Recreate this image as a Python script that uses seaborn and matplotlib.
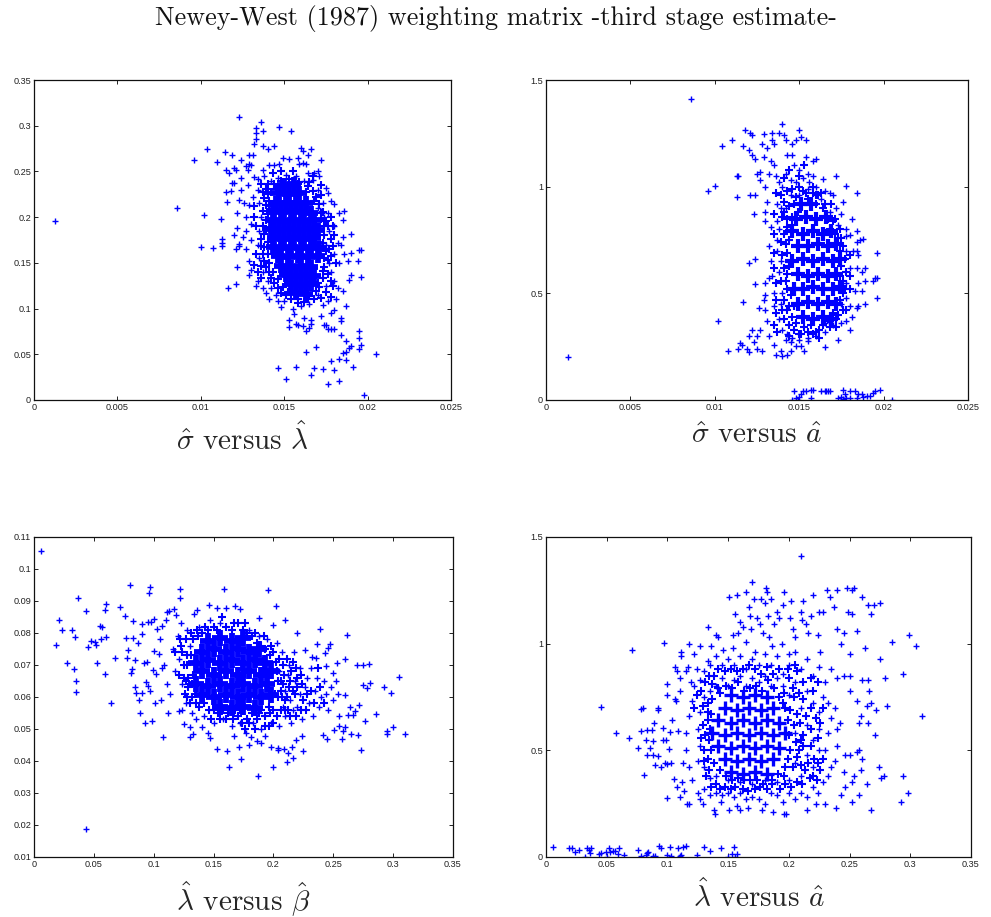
#!/usr/bin/env python3
"""Four scatter panels of third stage estimates (values read off the picture)"""

import matplotlib
matplotlib.use('Agg')
import matplotlib.pyplot as plt
import seaborn as sns

# sigma vs lambda
p1_outer = [(.00128,.196),(.00856,.210),(.0096,.262),(.0100,.167),(.0102,.202),(.0104,.275),(.01076,.166),(.0110,.260),(.01124,.198),(.0113,.176),(.0113,.172),(.0113,.168),(.01146,.271),(.0115,.252),(.0115,.228),(.0116,.217),(.01164,.122),(.0117,.248),(.0118,.229),(.0119,.268),(.0119,.237),(.012,.180),(.012,.237),(.012,.254),(.0121,.252),(.0121,.127),(.0122,.188),(.0121,.165),(.0122,.145),(.0123,.310),(.0123,.219),(.0123,.171),(.0123,.168),(.0124,.263),(.0124,.243),(.0124,.230),
(.0133,.285),(.0132,.280),(.0133,.292),(.0133,.298),(.0136,.304),(.0137,.294),(.0137,.278),(.0140,.275),(.0144,.278),(.0147,.299),(.0154,.294),(.0129,.268),(.0131,.268),(.0129,.258),(.0127,.256),(.0128,.252),(.0130,.257),(.0132,.244),(.0134,.242),(.0137,.252),(.0141,.257),(.0144,.257),(.0147,.258),(.0149,.265),(.0153,.264),(.0158,.265),(.0159,.258),(.0161,.259),(.0163,.258),(.0160,.276),(.0161,.272),(.0164,.268),(.0166,.274),(.0172,.263),(.0164,.248),(.0168,.248),(.0170,.250),(.0171,.245),(.0167,.241),(.0175,.232),(.0176,.226),(.0178,.218),(.0180,.214),(.0186,.207),(.0183,.204),(.0185,.197),(.0190,.182),(.0185,.178),(.0184,.170),(.0186,.160),(.0190,.161),(.0188,.152),(.0194,.152),(.0195,.164),(.0196,.164),(.0196,.134),(.0190,.137),(.0189,.131),(.0185,.119),(.0187,.103),(.0184,.090),(.0184,.086),(.0184,.071),(.0187,.064),(.0195,.076),(.0195,.068),(.0196,.060),(.0195,.056),(.0190,.059),(.0189,.057),(.0187,.052),(.0185,.051),(.0187,.044),(.0183,.045),(.0178,.043),(.0191,.036),(.0205,.050),(.0198,.006),(.0183,.021),(.0176,.018),(.0180,.033),(.0173,.034),(.0168,.035),(.0166,.027),(.0157,.036),(.0146,.035),(.0151,.023),(.0169,.058),(.0163,.052),(.0176,.078),(.0178,.078),(.0180,.078),(.0174,.082),(.0175,.082),(.0163,.076),(.0165,.079),(.0166,.083),(.0158,.082),(.0157,.083),(.0153,.080),(.0161,.081),(.0153,.087),(.0156,.094),(.0162,.090),(.0166,.087),(.0173,.104),(.0176,.108),(.0178,.095),(.0180,.098),(.0172,.092),(.0181,.110),(.0182,.123),(.0180,.130),(.0178,.140),(.0183,.150),(.0180,.160),(.0182,.172),(.0180,.190),(.0176,.205),(.0173,.215),(.0170,.230),(.0148,.102),(.0146,.108),(.0141,.110),(.0139,.117),(.0137,.123),(.0134,.130),(.0133,.125),(.0129,.137),(.0130,.142),(.0129,.152),(.0127,.165),(.0130,.175),(.0125,.178),(.0127,.185),(.0130,.192),(.0127,.200),(.0129,.213),(.0126,.215),(.0122,.205),(.0128,.235),(.0131,.222),(.0134,.230),(.0135,.215),(.0136,.200),(.0135,.185),(.0134,.170),(.0135,.155),(.0137,.140),(.0140,.130),(.0142,.122),(.0145,.115),(.0150,.108),(.0155,.100),(.0160,.103),(.0165,.105),(.0170,.115),(.0175,.125),(.0177,.150),(.0175,.170),(.0177,.185),(.0174,.200),(.0170,.210),(.0138,.245),(.0142,.240),(.0146,.243),(.0151,.246),(.0157,.245),(.0162,.240)]
p1_mid = [(.0139,.231),(.0142,.228),(.0144,.236),(.0148,.240),(.0153,.242),(.0159,.238),(.0164,.234),(.0167,.229),(.0169,.222),(.0172,.224),(.0171,.214),(.0173,.206),(.0175,.196),(.0172,.198),(.0176,.190),(.0174,.181),(.0178,.176),(.0175,.163),(.0178,.158),(.0176,.153),(.0174,.146),(.0176,.138),(.0173,.133),(.0175,.118),(.0171,.124),(.0169,.119),(.0168,.111),(.0164,.110),(.0162,.107),(.0158,.106),(.0154,.110),(.0151,.115),(.0148,.117),(.0146,.122),(.0144,.128),(.0142,.133),(.0141,.140),(.0139,.146),(.0138,.152),(.0137,.160),(.0138,.167),(.0136,.176),(.0138,.182),(.0137,.190),(.0139,.197),(.0137,.207),(.0139,.213),(.0138,.221),(.0141,.218),(.0133,.190),(.0132,.200),(.0132,.212),(.0133,.160),(.0132,.148),(.0136,.133),(.0179,.168),(.0181,.150),(.0179,.125),(.0178,.113),(.0172,.112),(.0180,.180),(.0178,.200),(.0172,.235),(.0167,.245),(.0165,.238),(.0155,.250),(.0148,.250),(.0143,.248),(.0140,.236),(.0136,.236),
(.0140,.225),(.0141,.212),(.0140,.203),(.0139,.186),(.0140,.173),(.0140,.160),(.0141,.150),(.0143,.140),(.0146,.132),(.0149,.124),(.0152,.118),(.0158,.110),(.0165,.114),(.0170,.128),(.0173,.141),(.0174,.155),(.0173,.172),(.0174,.190),(.0172,.205),(.0168,.218),(.0163,.228),(.0158,.236),(.0145,.231),(.0137,.228),(.0136,.168),(.0136,.147),(.0134,.140),(.0178,.130),(.0177,.165),(.0179,.190)]
p1_core = [(.0150,.235),(.0156,.236),(.0147,.226),(.0153,.225),(.0159,.226),(.0145,.216),(.0151,.216),(.0157,.215),(.0163,.216),(.0143,.207),(.0148,.206),(.0154,.207),(.0160,.206),(.0166,.205),(.0144,.197),(.0150,.196),(.0156,.197),(.0162,.196),(.0168,.197),(.0142,.187),(.0147,.186),(.0153,.187),(.0159,.186),(.0165,.187),(.0170,.186),(.0144,.177),(.0150,.176),(.0156,.177),(.0162,.176),(.0168,.177),(.0143,.167),(.0148,.166),(.0154,.167),(.0160,.166),(.0166,.167),(.0171,.166),(.0146,.157),(.0152,.156),(.0158,.157),(.0164,.156),(.0170,.157),(.0148,.147),(.0154,.146),(.0160,.147),(.0166,.146),(.0151,.137),(.0157,.136),(.0163,.137),(.0168,.136),(.0154,.127),(.0160,.126),(.0166,.127),(.0157,.117),(.0163,.116)]

# sigma vs a
p2_outer = [(.0013,.20),(.0086,1.413),(.0096,.98),(.0100,1.005),(.0102,.37),(.0104,1.19),(.0108,.23),(.0110,1.22),(.0113,.95),(.0113,1.05),(.0114,1.05),(.0114,.24),(.0115,.265),(.0116,.26),(.0117,.46),(.0117,1.19),(.0118,1.265),(.0119,.24),(.0120,.225),(.0120,1.17),(.0120,.30),(.0120,.64),(.0121,1.25),(.0121,.96),(.0122,1.24),(.0122,1.15),(.0122,.33),(.0123,.27),(.0123,.87),(.0124,.96),(.0124,1.13),(.0124,.66),(.0124,.545),(.0125,1.06),(.0125,.30),(.0125,.24),(.0126,.43),(.0127,1.07),(.0127,.33),(.0127,1.03),(.0128,1.20),(.0128,.23),(.0129,1.14),(.0129,1.245),(.0129,.47),(.0130,1.0),(.0130,.88),(.0130,.84),(.0130,.49),(.0130,.42),(.0130,.55),(.0131,1.18),(.0131,.37),(.0131,.93),(.0132,1.06),(.0132,.72),(.0132,.57),(.0132,.30),(.0133,1.12),(.0133,.81),(.0133,.65),(.0134,1.25),(.0134,1.22),(.0134,.58),(.0135,1.2),(.0135,1.1),(.0135,.50),(.0135,.44),(.0135,.26),(.0136,.21),(.0136,1.05),(.0137,.92),(.0137,.75),(.0138,1.25),
(.0140,1.295),(.0141,1.24),(.0142,1.22),(.0143,1.15),(.0146,1.15),(.0146,1.2),(.0148,1.22),(.0150,1.265),(.0151,1.235),(.0154,1.22),(.0154,1.14),(.0158,1.12),(.0160,1.13),(.0147,1.1),(.0150,1.08),(.0155,1.06),(.0158,1.05),(.0164,1.035),(.0172,1.05),(.0178,1.005),(.0184,.97),(.0165,.98),(.0168,.97),(.0170,.96),(.0176,.93),(.0172,.90),(.0175,.87),(.0181,.85),(.0178,.80),(.0184,.79),(.0180,.775),(.0178,.77),(.0188,.755),(.0184,.74),(.0186,.75),(.0182,.70),(.0184,.70),(.0185,.68),(.0196,.69),(.0189,.62),(.0187,.60),(.0184,.62),(.0195,.57),(.0196,.57),(.0194,.56),(.0189,.56),(.0185,.55),(.0187,.51),(.0183,.51),(.0196,.48),(.0189,.45),(.0185,.44),(.0184,.43),(.0180,.44),(.0178,.48),(.0181,.39),(.0178,.37),(.0180,.33),(.0175,.36),(.0173,.28),(.0165,.25),(.0160,.30),(.0165,.32),(.0170,.35),(.0155,.275),(.0153,.23),(.0151,.255),(.0148,.255),(.0145,.23),(.0143,.21),(.0140,.205),(.0139,.23),(.0145,.27),(.0142,.28),
(.0146,0),(.0147,.04),(.0148,.01),(.0149,.0),(.0150,.015),(.0151,.03),(.0152,.04),(.0154,.04),(.0157,.045),(.0158,.045),(.0157,.01),(.0163,.04),(.0165,.04),(.0166,.04),(.0167,.04),(.0168,.04),(.0173,.01),(.0175,.015),(.0176,.045),(.0177,.03),(.0176,.005),(.0178,.01),(.0180,.01),(.0180,.04),(.0183,.04),(.0184,.01),(.0185,.03),(.0187,.03),(.0188,.015),(.0190,.02),(.0192,.02),(.0194,.035),(.0195,.04),(.0198,.045),(.0205,.0),
(.0138,1.02),(.0140,1.0),(.0142,1.06),(.0145,1.03),(.0148,1.02),(.0152,1.04),(.0156,1.02),(.0160,1.0),(.0139,.9),(.0137,.84),(.0138,.80),(.0137,.70),(.0139,.65),(.0138,.60),(.0140,.50),(.0139,.45),(.0138,.38),(.0140,.33),(.0143,.31),(.0146,.29),(.0150,.28),(.0155,.29),(.0165,.36),(.0175,.45),(.0178,.55),(.0180,.62),(.0178,.70),(.0173,.82),(.0168,.88),(.0163,.94),(.0155,.99),(.0150,.96),(.0145,.96),(.0142,.9)]
p2_mid = [(.0143,.98),(.0146,.99),(.0152,.98),(.0158,.97),(.0161,.96),(.0141,.93),(.0143,.85),(.0141,.78),(.0142,.73),(.0140,.68),(.0141,.62),(.0142,.56),(.0143,.52),(.0141,.47),(.0143,.42),(.0141,.38),(.0144,.35),(.0147,.33),(.0151,.31),(.0155,.32),(.0158,.31),(.0162,.33),(.0167,.38),(.0170,.41),(.0173,.40),(.0172,.45),(.0176,.50),(.0176,.56),(.0178,.60),(.0175,.63),(.0177,.66),(.0176,.72),(.0175,.76),(.0171,.78),(.0171,.85),(.0167,.85),(.0169,.92),(.0165,.92),(.0160,.96),(.0148,.95),(.0155,.94),(.0144,.91),(.0149,.88),(.0141,.88),(.0146,.82),(.0174,.80),(.0180,.68),(.0180,.58),(.0180,.52),(.0178,.42),(.0172,.38),(.0168,.34),(.0162,.29),(.0150,.31),(.0144,.30),(.0137,.32),(.0135,.35),(.0136,.41),(.0136,.47),(.0136,.55),(.0135,.62),(.0135,.69),(.0135,.78),(.0135,.87),(.0136,.97),(.0139,.96),(.0141,1.04),(.0144,1.08),(.0150,1.05),(.0153,1.1),
(.0144,.75),(.0143,.69),(.0144,.63),(.0143,.59),(.0145,.49),(.0144,.44),(.0146,.39),(.0148,.36),(.0153,.34),(.0157,.35),(.0160,.32),(.0164,.35),(.0168,.37),(.0174,.47),(.0174,.58),(.0177,.52),(.0174,.70),(.0173,.76),(.0170,.84),(.0164,.90),(.0160,.92),(.0147,.92),(.0154,.97),(.0158,1.0),(.0150,1.0),(.0146,.86),(.0143,.81),(.0147,.44),(.0140,.42),(.0139,.56),(.0139,.74),(.0140,.86),(.0163,.97),(.0168,.80),(.0176,.42),(.0172,.34)]
p2_core = [(.0151,.92),(.0157,.92),(.0148,.85),(.0154,.86),(.0160,.85),(.0166,.86),(.0146,.79),(.0152,.78),(.0158,.79),(.0164,.78),(.0169,.79),(.0149,.72),(.0155,.72),(.0161,.73),(.0167,.72),(.0172,.73),(.0146,.65),(.0152,.66),(.0158,.65),(.0164,.66),(.0170,.65),(.0174,.66),(.0149,.59),(.0155,.58),(.0161,.59),(.0167,.58),(.0172,.59),(.0147,.52),(.0152,.52),(.0158,.53),(.0164,.52),(.0170,.52),(.0174,.53),(.0149,.45),(.0155,.46),(.0161,.45),(.0167,.46),(.0172,.45),(.0152,.39),(.0158,.38),(.0164,.39),(.0169,.38)]

# lambda vs beta
p3_outer = [(.006,.1055),(.0185,.0763),(.021,.084),(.0235,.081),(.0275,.0706),(.0315,.081),(.0335,.0688),(.0345,.0787),(.035,.0617),(.0355,.065),(.0365,.0908),(.0435,.0188),(.0435,.0868),(.045,.0755),(.0475,.0775),(.051,.0772),(.0525,.0705),(.0515,.0762),(.055,.0822),(.056,.0782),(.057,.082),(.059,.0873),(.0595,.0672),(.06,.089),(.0605,.0788),(.0645,.058),(.068,.0722),(.0715,.088),(.076,.0853),(.0765,.0785),(.078,.0722),(.0785,.0748),(.08,.095),(.081,.0675),(.082,.0688),(.083,.0838),(.083,.0785),(.0845,.0632),(.0845,.0715),(.085,.0613),(.087,.077),(.088,.059),(.0885,.055),(.09,.0827),(.09,.0613),(.09,.0798),(.092,.0705),(.0925,.052),(.0935,.0648),(.094,.0708),(.095,.0835),(.0955,.0635),(.096,.0925),(.0965,.0943),(.097,.062),(.098,.0835),(.0985,.0525),(.0995,.0685),(.1,.0845),(.1,.0745),(.1015,.0672),(.101,.058),(.103,.0812),(.1045,.0735),(.105,.0782),(.106,.0592),(.107,.0822),(.108,.0475),(.109,.07),(.11,.0842),(.111,.0865),(.112,.055),(.113,.087),(.117,.0875),(.119,.0855),(.122,.091),(.122,.0938),(.121,.0555),(.124,.056),(.125,.0515),(.13,.0475),(.13,.0505),(.133,.0483),(.134,.0858),(.136,.0872),(.14,.0505),(.145,.0488),(.146,.0888),(.147,.0472),(.1525,.0878),(.153,.0437),(.1585,.0938),(.16,.0878),(.161,.0432),(.163,.0382),(.167,.0478),(.168,.0885),(.1715,.0445),(.172,.0875),(.173,.0405),(.177,.0488),(.1795,.045),(.181,.0475),(.186,.0462),(.1875,.0352),(.188,.0848),(.19,.0455),(.193,.0478),(.1955,.0933),(.198,.0445),(.2,.0825),(.2,.038),(.2025,.0883),(.2035,.0435),(.204,.044),(.2085,.0438),(.2095,.0842),(.2115,.0398),(.212,.0425),(.2155,.0445),(.2165,.041),(.2185,.0465),(.22,.08),(.225,.0432),(.224,.0478),(.226,.0748),(.2325,.0725),(.2355,.0722),(.2365,.0767),(.239,.0813),(.2415,.0482),(.243,.0738),(.245,.047),(.2455,.0752),(.247,.0765),(.2435,.0698),(.2495,.0675),(.2505,.0497),(.2535,.0705),(.2545,.0508),(.2575,.047),(.258,.0495),(.2595,.0605),(.2595,.072),(.2615,.0795),(.2645,.0485),(.2695,.07),(.2705,.0482),(.2735,.0435),(.2745,.0638),(.275,.07),(.2765,.0525),(.278,.0628),(.2795,.0702),(.281,.0645),(.2855,.0548),(.292,.0632),(.2945,.0485),(.2945,.0495),(.2985,.0612),(.2995,.0505),(.3045,.0663),(.31,.0483),(.264,.057),(.268,.0555),(.2715,.0575),(.2665,.0545),(.262,.0545),(.255,.054),(.26,.0505),
(.107,.069),(.111,.064),(.114,.061),(.116,.075),(.118,.068),(.12,.079),(.121,.072),(.123,.083),(.124,.064),(.127,.058),(.128,.081),(.13,.076),(.132,.055),(.135,.053),(.138,.082),(.142,.054),(.147,.084),(.15,.052),(.155,.083),(.158,.053),(.165,.051),(.172,.052),(.18,.081),(.183,.052),(.188,.079),(.19,.05),(.195,.078),(.198,.052),(.203,.077),(.205,.051),(.207,.074),(.21,.054),(.213,.07),(.215,.052),(.217,.074),(.22,.057),(.222,.069),(.224,.053),(.226,.063),(.228,.066),(.23,.058),(.231,.069),(.233,.054),(.235,.062),(.236,.066),(.238,.057),(.24,.06),(.242,.065),(.244,.061),(.246,.056),(.248,.063),(.25,.059),(.252,.065),(.254,.061),(.222,.061),(.218,.065),(.214,.059),(.21,.062),(.208,.057),(.216,.056),(.205,.068),(.212,.067)]
p3_mid = [(.118,.074),(.121,.067),(.123,.076),(.125,.07),(.126,.061),(.128,.073),(.129,.066),(.13,.058),(.131,.08),(.127,.078),(.133,.078),(.136,.081),(.14,.08),(.143,.082),(.15,.082),(.153,.081),(.16,.082),(.165,.081),(.17,.083),(.175,.081),(.178,.08),(.182,.079),(.186,.077),(.19,.076),(.193,.075),(.197,.073),(.2,.074),(.202,.071),(.205,.072),(.208,.07),(.203,.068),(.206,.065),(.208,.064),(.204,.06),(.21,.059),(.207,.06),(.2,.056),(.203,.054),(.197,.055),(.193,.054),(.19,.056),(.186,.053),(.182,.055),(.178,.053),(.174,.052),(.17,.054),(.166,.053),(.162,.055),(.158,.056),(.154,.055),(.15,.056),(.146,.056),(.142,.058),(.138,.057),(.135,.058),(.132,.06),(.129,.063),(.127,.065),(.215,.068),(.22,.066),(.225,.059),(.218,.061),(.213,.063),(.227,.056),(.231,.062),(.234,.058),(.212,.056),(.196,.051),(.185,.05),(.176,.05),
(.211,.072),(.216,.071),(.209,.067),(.214,.065),(.219,.069),(.223,.067),(.206,.062),(.211,.06),(.216,.062),(.22,.063),(.224,.064),(.228,.061),(.206,.056),(.21,.056),(.214,.054),(.219,.054),(.223,.056),(.2,.052),(.193,.051),(.204,.065),(.201,.061),(.196,.057),(.128,.07),(.125,.066),(.124,.074),(.122,.078),(.128,.06),(.131,.073),(.133,.067),(.132,.064),(.135,.061),(.137,.079),(.145,.081),(.148,.053),(.155,.053),(.16,.053),(.168,.056),(.172,.056),(.18,.052),(.188,.055),(.192,.079),(.198,.076),(.185,.08),(.176,.083),(.167,.083),(.157,.085),(.239,.063),(.242,.058),(.237,.069)]
p3_core = [(.145,.0775),(.155,.0785),(.165,.0775),(.175,.0785),(.140,.074),(.150,.075),(.160,.074),(.170,.075),(.180,.074),(.188,.075),(.135,.0705),(.145,.0715),(.155,.0705),(.165,.0715),(.175,.0705),(.185,.0715),(.193,.0705),(.140,.068),(.150,.067),(.160,.068),(.170,.067),(.180,.068),(.190,.067),(.198,.068),(.135,.064),(.145,.0635),(.155,.064),(.165,.0635),(.175,.064),(.185,.0635),(.195,.064),(.140,.0605),(.150,.060),(.160,.0605),(.170,.060),(.180,.0605),(.190,.060),(.198,.0605),(.155,.057),(.165,.0565),(.175,.057),(.185,.0565)]

# lambda vs a
p4_outer = [(.006,.045),(.019,.04),(.021,.04),(.024,.025),(.027,.035),(.032,0),(.034,.04),(.035,.035),(.036,.02),(.037,.04),(.044,.015),(.045,.02),(.049,.025),(.05,0),(.052,.04),(.053,.025),(.055,.03),(.057,.03),(.059,.015),(.06,.04),(.064,.01),(.076,.035),(.078,.005),(.082,.01),(.083,.02),(.084,.025),(.088,.005),(.09,.005),(.093,.05),(.095,.04),(.1,.01),(.102,.045),(.103,.005),(.109,.04),(.11,.005),(.111,.01),(.113,.045),(.115,.05),(.124,.01),(.13,.045),(.135,.03),(.144,.04),(.15,0),(.153,.015),(.155,.045),(.157,.015),(.156,0),
(.045,.705),(.058,.58),(.068,.56),(.071,.97),(.076,.51),(.078,.59),(.078,.695),(.08,.7),(.081,.385),(.082,.55),(.083,.48),(.083,.595),(.086,.51),(.087,.595),(.088,.545),(.088,.48),(.089,.63),(.09,.43),(.092,.475),(.092,.7),(.092,.69),(.095,.42),(.096,.55),(.096,.605),(.097,1.005),(.098,.44),(.099,.55),(.1,.275),(.1,.435),(.1,.76),(.1,.81),(.101,.505),(.102,.585),(.103,.44),(.104,.64),(.105,.365),(.106,.89),(.106,.74),(.107,.73),(.108,.33),(.108,.87),(.109,.59),(.11,.28),(.11,.84),(.11,.78),(.111,.96),(.111,.94),(.112,.35),(.113,.44),(.114,.31),(.115,.87),(.116,.25),(.117,.89),(.118,.25),(.118,1.0),(.119,.82),(.122,.95),(.124,.88),(.127,.99),(.127,.27),(.129,.25),(.133,.92),(.133,1.08),(.136,.99),(.138,.22),(.139,.2),(.14,1.04),(.142,1.03),(.144,.26),(.146,.97),(.151,.22),(.151,1.22),(.154,1.04),(.154,.98),(.156,1.14),(.157,1.23),(.157,.24),(.158,1.05),(.16,1.1),(.16,.22),(.162,1.08),(.165,1.01),(.165,1.24),(.166,.23),(.167,1.17),(.168,1.13),(.169,1.07),(.17,1.29),(.171,1.21),(.172,.96),(.174,1.12),(.176,1.09),(.177,1.21),(.178,.22),(.179,1.05),(.18,1.19),(.181,1.26),(.182,1.24),(.183,1.13),(.184,1.03),(.185,1.21),(.186,.99),(.187,.21),(.188,1.09),(.19,1.15),(.192,1.12),(.194,1.0),(.195,1.18),(.196,1.24),(.196,.2),(.198,.2),(.2,.95),(.201,1.12),(.202,1.2),(.203,1.07),(.205,1.03),(.21,1.41),(.21,1.15),(.211,1.11),(.212,1.2),(.214,1.09),(.215,.22),(.216,1.05),(.218,1.13),(.22,1.23),(.222,.25),(.224,1.04),(.225,1.15),(.226,.96),(.228,1.15),(.23,.25),(.231,1.25),(.234,1.22),(.237,1.17),(.239,.23),(.24,1.25),(.24,1.07),(.243,1.0),(.245,1.05),(.248,1.26),(.249,1.15),(.25,.95),(.252,.26),(.252,1.25),(.252,1.14),(.254,1.26),(.256,1.06),(.258,.29),(.26,1.22),(.263,.98),(.264,.34),(.265,1.18),(.268,1.14),(.268,.22),(.27,1.18),(.271,.57),(.274,.42),(.275,1.19),(.275,.93),(.276,.37),(.278,.38),(.279,.84),(.281,.71),(.285,1.01),(.292,.26),(.294,.86),(.294,.38),(.298,.3),(.299,1.04),(.305,.99),(.31,.66),
(.245,.85),(.25,.85),(.25,.78),(.256,.73),(.258,.63),(.259,.66),(.26,.83),(.259,.41),(.26,.46),(.256,.49),(.258,.5),(.254,.38),(.252,.35),(.246,.33),(.245,.4),(.243,.29),(.246,.48),(.25,.48),(.264,.71),(.265,.83),(.266,.78),(.265,.63),(.268,.72),(.272,.69),(.242,.63),(.24,.6),(.238,.7),(.235,.65),(.232,.58),(.23,.5),(.24,.52),(.238,.45),(.235,.42),(.232,.38),(.228,.35),(.224,.3),(.22,.33),(.215,.28),(.21,.3),(.205,.27),(.2,.3),(.195,.26),(.19,.29),(.185,.3),(.18,.25),(.175,.27),(.17,.28),(.165,.27),(.16,.3),(.155,.28),(.15,.3),(.145,.29),(.14,.3),(.135,.29),(.13,.32),(.125,.3),(.12,.36),(.118,.42),(.115,.5),(.115,.58),(.118,.66),(.12,.73),(.122,.8),(.127,.83),(.13,.87),(.135,.9),(.14,.94),(.145,.9),(.15,.93),(.155,.9),(.16,.94),(.165,.88),(.17,.93),(.175,.9),(.18,.95),(.185,.9),(.19,.94),(.195,.86),(.2,.9),(.205,.96),(.21,.88),(.215,.93),(.22,.85),(.225,.89),(.23,.82),(.235,.88),(.24,.84),(.228,.75),(.232,.72),(.225,.68),(.22,.72),(.215,.78),(.21,.7),(.225,.6),(.22,.55),(.215,.62),(.225,.5),(.22,.42),(.215,.48),(.21,.38),(.205,.44),(.2,.36),(.205,.58),(.205,.82),(.2,.76),(.195,.8),(.19,.84),(.185,.8),(.18,.85),(.175,.82),(.17,.84),(.165,.8),(.16,.85),(.155,.83),(.15,.8),(.145,.84),(.14,.8),(.135,.78),(.13,.75),(.127,.68),(.125,.6),(.127,.52),(.125,.45),(.13,.42),(.135,.37),(.14,.38),(.15,.36),(.16,.35),(.17,.34),(.18,.36),(.19,.35)]
p4_mid = [(.122,.7),(.124,.76),(.128,.78),(.131,.82),(.133,.72),(.133,.64),(.131,.57),(.13,.5),(.133,.46),(.132,.38),(.136,.33),(.14,.34),(.143,.32),(.147,.33),(.152,.32),(.156,.33),(.162,.32),(.166,.31),(.172,.32),(.176,.33),(.182,.32),(.186,.34),(.193,.32),(.197,.34),(.202,.33),(.207,.35),(.211,.34),(.213,.41),(.217,.37),(.22,.38),(.223,.36),(.226,.41),(.228,.46),(.224,.44),(.212,.52),(.208,.5),(.206,.54),(.212,.57),(.209,.63),(.218,.6),(.222,.65),(.207,.67),(.212,.74),(.218,.7),(.208,.77),(.212,.82),(.218,.84),(.207,.87),(.2,.84),(.196,.77),(.192,.88),(.187,.86),(.182,.89),(.177,.86),(.172,.88),(.167,.9),(.162,.88),(.157,.87),(.152,.88),(.147,.87),(.142,.88),(.138,.85),(.134,.85),(.129,.71),(.137,.81),(.143,.77),(.201,.69),(.204,.62),(.201,.5),(.203,.42),(.197,.42),(.195,.72),
(.137,.74),(.142,.79),(.148,.8),(.153,.79),(.158,.82),(.163,.78),(.168,.79),(.173,.8),(.178,.78),(.183,.83),(.188,.79),(.192,.75),(.197,.7),(.199,.64),(.2,.57),(.199,.46),(.196,.38),(.191,.39),(.186,.36),(.179,.34),(.174,.36),(.168,.36),(.163,.36),(.158,.37),(.153,.36),(.148,.38),(.143,.41),(.138,.44),(.136,.5),(.134,.55),(.135,.6),(.136,.67),(.133,.68),(.129,.62),(.128,.56),(.13,.45),(.134,.41),(.21,.43),(.207,.47),(.21,.55),(.214,.66),(.216,.44),(.218,.52),(.221,.46),(.224,.56),(.226,.63),(.228,.7),(.22,.78),(.224,.82),(.204,.75),(.203,.79),(.199,.88),(.205,.9)]
p4_core = [(.152,.76),(.162,.75),(.172,.76),(.182,.75),(.147,.70),(.157,.69),(.167,.70),(.177,.69),(.187,.70),(.142,.64),(.152,.63),(.162,.64),(.172,.63),(.182,.64),(.192,.63),(.137,.58),(.147,.57),(.157,.58),(.167,.57),(.177,.58),(.187,.57),(.197,.58),(.142,.52),(.152,.51),(.162,.52),(.172,.51),(.182,.52),(.192,.51),(.147,.46),(.157,.45),(.167,.46),(.177,.45),(.187,.46),(.152,.40),(.162,.39),(.172,.40),(.182,.39)]

# tick labels per panel
x_ticks_sigma = [0, .005, .01, .015, .02, .025]
x_labels_sigma = ['0', '0.005', '0.01', '0.015', '0.02', '0.025']
x_ticks_lambda = [0, .05, .1, .15, .2, .25, .3, .35]
x_labels_lambda = ['0', '0.05', '0.1', '0.15', '0.2', '0.25', '0.3', '0.35']
y_ticks_a = [0, .5, 1, 1.5]
y_labels_a = ['0', '0.5', '1', '1.5']
y_ticks_beta = [.01, .02, .03, .04, .05, .06, .07, .08, .09, .1, .11]
y_labels_beta = ['0.01', '0.02', '0.03', '0.04', '0.05', '0.06', '0.07', '0.08', '0.09', '0.1', '0.11']

W, H = 991, 917
sns.set_style('ticks')
plt.rcParams['mathtext.fontset'] = 'cm'
plt.rcParams['font.family'] = ['Liberation Sans', 'DejaVu Sans']


def draw_panel(box, outer, mid, core, core_style, xt, xl, yt, yl, xlim, ylim, label):
    l, r, t, b = box
    ax = fig.add_axes([l / W, 1 - b / H, (r - l) / W, (b - t) / H])
    # the dense middle, where single marks run together
    sns.scatterplot(x=[p[0] for p in core], y=[p[1] for p in core], marker='+', s=core_style[0],
                    linewidth=core_style[1], color='#0000ff', ax=ax)
    sns.scatterplot(x=[p[0] for p in mid], y=[p[1] for p in mid], marker='+', s=28,
                    linewidth=1.5, color='#0000ff', ax=ax)
    sns.scatterplot(x=[p[0] for p in outer], y=[p[1] for p in outer], marker='+', s=20,
                    linewidth=1.0, color='#0000ff', ax=ax)
    ax.set_xlim(xlim)
    ax.set_ylim(ylim)
    ax.set_xticks(xt)
    ax.set_xticklabels(xl)
    ax.set_yticks(yt)
    ax.set_yticklabels(yl)
    ax.tick_params(direction='in', top=True, right=True, length=3, width=0.7,
                   labelsize=6.6, pad=2, colors='#222222')
    for s in ax.spines.values():
        s.set_linewidth(0.9)
        s.set_color('#111111')
    ax.set_xlabel(label, fontsize=21, family='cmr10', labelpad=0)
    ax.xaxis.set_label_coords(0.5, -0.07, transform=ax.transAxes)
    ax.xaxis.label.set_verticalalignment('top')
    return ax


fig = plt.figure(figsize=(W / 100, H / 100), dpi=100, facecolor='white')

draw_panel((34, 451, 80, 400), p1_outer, p1_mid, p1_core, (100, 4.2), x_ticks_sigma, x_labels_sigma,
           [0, .05, .1, .15, .2, .25, .3, .35], ['0', '0.05', '0.1', '0.15', '0.2', '0.25', '0.3', '0.35'],
           (0, .025), (0, .35), r'$\hat{\sigma}$ versus $\hat{\lambda}$')
draw_panel((546, 968, 80, 400), p2_outer, p2_mid, p2_core, (110, 3.0), x_ticks_sigma, x_labels_sigma,
           y_ticks_a, y_labels_a, (0, .025), (0, 1.5), r'$\hat{\sigma}$ versus $\hat{a}$')
draw_panel((34, 453, 537, 857), p3_outer, p3_mid, p3_core, (130, 4.2), x_ticks_lambda, x_labels_lambda,
           y_ticks_beta, y_labels_beta, (0, .35), (.01, .11), r'$\hat{\lambda}$ versus $\hat{\beta}$')
draw_panel((546, 971, 537, 857), p4_outer, p4_mid, p4_core, (100, 2.4), x_ticks_lambda, x_labels_lambda,
           y_ticks_a, y_labels_a, (0, .35), (0, 1.5), r'$\hat{\lambda}$ versus $\hat{a}$')

fig.text(496 / W, 1 - 19 / H, 'Newey-West (1987) weighting matrix -third stage estimate-',
         ha='center', va='center', fontsize=18.8, family='cmr10', color='#111111')

fig.savefig('out.png', dpi=100, facecolor='white')
